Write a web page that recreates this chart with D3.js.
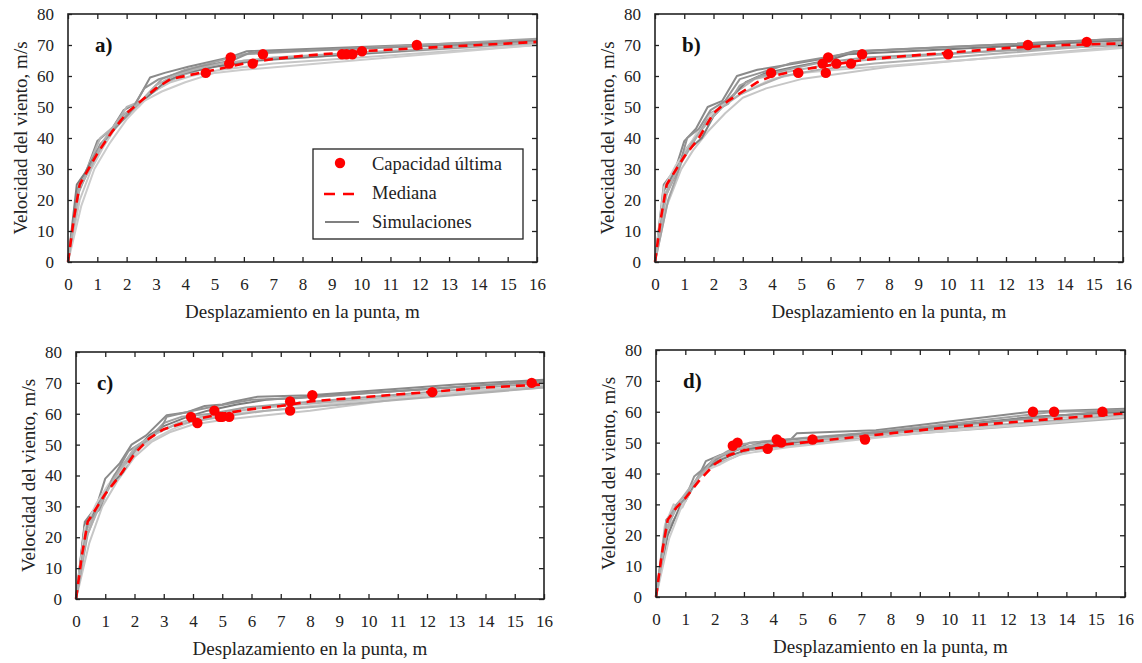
<!DOCTYPE html>
<html>
<head>
<meta charset="utf-8">
<script src="https://cdn.jsdelivr.net/npm/d3@7"></script>
<style>
  body { margin: 0; background: #fff; }
</style>
</head>
<body>
<div id="dataviz"></div>
<script>

var serif = "Liberation Serif"

// tick values
var xTicks = d3.range(0, 17, 1)
var yTicks = [0, 10, 20, 30, 40, 50, 60, 70, 80]
var panelNames = ["a)", "b)", "c)", "d)"]
var simColors = ["#8a8a8a", "#b4b4b4", "#c6c6c6", "#7c7c7c", "#a2a2a2", "#cccccc", "#939393", "#b0b0b0"]

// --- panel a ---
var simA = [
  [[0,0],[0.35,24],[0.65,30],[1,39],[1.5,43],[1.9,49],[2.3,51],[2.8,59.5],[3.3,61],[4.1,63],[5.5,66],[6.1,68],[16,71.5]],
  [[0,0],[0.3,22],[0.7,31],[1.1,40],[1.6,44],[2,50],[2.5,52],[3.1,56],[3.8,60],[4.5,62],[6,65],[8,66],[16,70.5]],
  [[0,0],[0.4,20],[0.8,30],[1.2,37],[1.8,46],[2.4,50],[2.9,55],[3.5,58],[4.2,60],[5.2,62],[7,64],[16,70]],
  [[0,0],[0.3,25],[0.6,29],[1,36],[1.4,41],[1.8,47],[2.3,50],[2.8,54],[3.3,58],[4,61],[5,63],[6.5,65],[16,71]],
  [[0,0],[0.35,23],[0.9,33],[1.3,40],[1.7,45],[2.2,49],[2.7,54],[3.2,59],[4,62],[4.8,64],[6,67],[16,72]],
  [[0,0],[0.45,18],[0.9,30],[1.4,38],[2,46],[2.6,52],[3.2,55],[4,58],[5,61],[6,62],[16,70]],
  [[0,0],[0.3,21],[0.7,30],[1.1,38],[1.7,44],[2.1,48],[2.6,56],[3.1,59],[3.8,61],[4.5,63],[5.6,65],[6.2,67.5],[16,71]],
  [[0,0],[0.4,24],[0.8,31],[1.2,39],[1.8,47],[2.4,51],[3,57],[3.6,60],[4.3,62],[5.2,64],[7,66],[16,70.8]]
]
var medA = [[0,0],[0.2,14],[0.4,25],[1,35],[1.5,42],[2,48],[2.5,52],[3,56],[3.5,59],[4,60],[5,62],[6,64],[7,65.5],[8,66.5],[10,68],[12,69],[14,70],[16,71]]
var capA = [[4.7,61],[5.5,64],[5.55,66],[6.3,64],[6.65,67],[9.35,67],[9.5,67],[9.7,67],[10.03,68],[11.9,70]]

// --- panel b ---
var simB = [
  [[0,0],[0.3,25],[0.7,30],[1,39],[1.4,43],[1.8,50],[2.3,52],[2.8,60],[3.5,62],[4.8,64],[6,66],[6.8,68],[16,72]],
  [[0,0],[0.35,22],[0.8,31],[1.1,37],[1.7,44],[2.2,50],[2.8,55],[3.4,59],[4.3,61],[5.5,63],[7,65],[16,71]],
  [[0,0],[0.4,18],[0.9,30],[1.3,36],[1.8,42],[2.4,48],[3,53],[3.8,56],[5,59],[6.5,61],[8,63],[16,69.5]],
  [[0,0],[0.3,23],[0.6,28],[1,35],[1.6,40],[2,47],[2.6,53],[3.1,58],[3.8,61],[4.8,63],[5.9,65],[6.6,67],[16,71.5]],
  [[0,0],[0.45,20],[0.9,32],[1.4,40],[1.9,48],[2.5,51],[2.9,57],[3.6,60],[4.5,62],[5.5,64],[7.2,66],[16,70]],
  [[0,0],[0.3,24],[0.7,31],[1.2,38],[1.7,46],[2.1,49],[2.7,53],[3.3,56],[4,59],[5,61],[6.2,62],[16,69]],
  [[0,0],[0.35,21],[0.8,30],[1.1,40],[1.5,43],[1.9,49],[2.4,52],[2.9,59],[3.6,61],[4.6,64],[5.8,66],[7,68],[16,72]],
  [[0,0],[0.4,22],[0.9,33],[1.3,39],[1.8,45],[2.3,50],[2.9,54],[3.6,57],[4.4,60],[5.6,62],[7.5,64],[16,70.5]]
]
var medB = [[0,0],[0.2,14],[0.4,25],[1,34],[1.5,40],[2,48],[2.5,52],[3,55],[3.5,58],[4,60],[5,62],[6,63.5],[7,65],[8,66],[10,67.5],[12,69],[14,70],[16,70.5]]
var capB = [[3.97,61],[4.9,61],[5.73,64],[5.84,61],[5.92,66],[6.2,64],[6.7,64],[7.08,67],[10.02,67],[12.75,70],[14.76,71]]

// --- panel c ---
var simC = [
  [[0,0],[0.3,25],[0.7,30],[1,39],[1.5,44],[1.9,50],[2.4,53],[3.1,59.5],[3.8,60.5],[4.4,62.5],[5,63],[5.4,64],[6.2,65.5],[8,66],[13,69.5],[16,71]],
  [[0,0],[0.35,22],[0.8,31],[1.2,37],[1.8,45],[2.3,50],[2.8,54],[3.5,57],[4.3,59],[5.5,61],[7,62.5],[11,65.5],[16,69]],
  [[0,0],[0.45,18],[0.9,30],[1.4,38],[2,46],[2.6,51],[3.2,54],[4,56.5],[5,58],[6.5,59.5],[8,61],[12,66],[16,68.5]],
  [[0,0],[0.3,24],[0.6,28],[1,35],[1.6,41],[2,48],[2.5,53],[3,56],[3.8,59],[4.5,61],[5.5,63],[6.5,64.5],[16,70.5]],
  [[0,0],[0.4,21],[0.9,33],[1.3,40],[1.9,47],[2.4,51],[3,57],[3.6,59],[4.6,60],[5.8,62],[7.5,63.5],[16,70]],
  [[0,0],[0.3,23],[0.7,31],[1.1,37],[1.7,43],[2.2,49],[2.7,52],[3.3,55],[4.1,58],[5.2,60],[6.5,61],[9,63.5],[16,69.5]],
  [[0,0],[0.4,25],[0.8,29],[1.2,38],[1.8,48],[2.3,51],[2.9,55],[3.1,59],[4,61],[4.8,62.5],[6,64.5],[7.5,65],[13.5,69],[16,70.5]],
  [[0,0],[0.35,20],[0.8,30],[1.3,39],[2,49],[2.6,53],[3.3,56],[4,57.5],[5,59],[6.5,61],[8.5,62.5],[16,68.5]]
]
var medC = [[0,0],[0.2,14],[0.4,25],[1,34],[1.5,40],[2,47],[2.5,52],[3,55],[4,58],[5,60],[6,61.5],[7,62.5],[8,64],[10,65.5],[12,67],[14,68.5],[16,69.5]]
var capC = [[3.93,59],[4.15,57],[4.73,61],[4.92,59],[5.0,59],[5.24,59],[7.32,64],[7.32,61],[8.08,66],[12.18,67],[15.58,70]]

// --- panel d ---
var simD = [
  [[0,0],[0.35,25],[0.7,29],[1,31],[1.4,38],[1.7,44],[2.2,46],[2.6,47],[3.2,50],[4.6,51],[4.8,53],[7.5,54],[12.8,60],[16,61]],
  [[0,0],[0.4,22],[0.8,28],[1.1,33],[1.5,40],[2,43],[2.6,45],[3.2,47.5],[4.5,49],[6,50.5],[9,53],[16,58]],
  [[0,0],[0.3,23],[0.6,30],[0.9,29],[1.3,37],[1.7,42],[2.2,45],[2.8,48],[3.5,49],[5,50],[7,52],[12,57],[16,59.5]],
  [[0,0],[0.4,20],[0.8,29],[1.2,35],[1.6,41],[2.1,44],[2.6,46],[3.2,48],[4.2,49.5],[5.5,51],[8,53.5],[13,58.5],[16,60]],
  [[0,0],[0.35,24],[0.7,30],[1.1,34],[1.5,40],[1.9,44],[2.4,47],[2.9,49.5],[3.8,50.5],[5,51.5],[7,53],[10,56],[13.6,60],[16,60.5]],
  [[0,0],[0.45,19],[0.9,30],[1.2,36],[1.7,41],[2.2,43],[2.8,46],[3.4,47],[4.5,48.5],[6,50],[9,53],[16,58.5]],
  [[0,0],[0.3,21],[0.7,29],[1,32],[1.3,39],[1.8,43],[2.3,46],[2.9,48],[3.6,50],[4.6,51],[6.5,52.5],[10,55.5],[15.2,60],[16,60.5]],
  [[0,0],[0.4,23],[0.8,31],[1.2,36],[1.6,40],[2,45],[2.5,47],[3,48.5],[4,50],[5.5,51],[8,53],[12,56],[16,59]]
]
var medD = [[0,0],[0.2,14],[0.4,25],[0.7,29],[1,32],[1.5,38],[2,43],[2.5,46],[3,47.5],[4,49],[5,50],[7,52],[8,53],[10,55],[12,56.5],[14,58],[16,59.5]]
var capD = [[2.62,49],[2.78,50],[3.81,48],[4.12,51],[4.27,50],[5.34,51],[7.13,51],[12.86,60],[13.58,60],[15.23,60]]

// panel boxes (left, top, width, height) in page pixels
var boxes = [
  {left: 68, top: 14, width: 469, height: 248, lab: 27},
  {left: 655, top: 14, width: 468, height: 248, lab: 27},
  {left: 76, top: 352, width: 468, height: 247, lab: 21},
  {left: 656, top: 350, width: 469, height: 247, lab: 27}
]
var sims = [simA, simB, simC, simD]
var meds = [medA, medB, medC, medD]
var caps = [capA, capB, capC, capD]

var svg = d3.select("#dataviz")
  .append("svg")
  .attr("width", 1142)
  .attr("height", 663)
  .attr("font-family", serif)

svg.append("rect").attr("width", 1142).attr("height", 663).attr("fill", "#fff")

boxes.forEach(function(b, i) {
  var g = svg.append("g")
    .attr("transform", "translate(" + b.left + "," + b.top + ")")

  var x = d3.scaleLinear().domain([0, 16]).range([0, b.width])
  var y = d3.scaleLinear().domain([0, 80]).range([b.height, 0])

  var line = d3.line()
    .x(function(d) { return x(d[0]) })
    .y(function(d) { return y(d[1]) })

  // simulaciones
  g.selectAll(".sim")
    .data(sims[i])
    .join("path")
    .attr("class", "sim")
    .attr("d", line)
    .attr("fill", "none")
    .attr("stroke", function(d, k) { return simColors[k % simColors.length] })
    .attr("stroke-width", 2)
    .attr("stroke-linejoin", "round")

  // mediana
  g.append("path")
    .datum(meds[i])
    .attr("d", line)
    .attr("fill", "none")
    .attr("stroke", "#ff0000")
    .attr("stroke-width", 2.6)
    .attr("stroke-dasharray", "9,6")

  // capacidad ultima
  g.selectAll(".cap")
    .data(caps[i])
    .join("circle")
    .attr("class", "cap")
    .attr("cx", function(d) { return x(d[0]) })
    .attr("cy", function(d) { return y(d[1]) })
    .attr("r", 5.2)
    .attr("fill", "#ff0000")

  // ejes (ticks hacia adentro en los cuatro lados)
  g.append("g")
    .attr("transform", "translate(0," + b.height + ")")
    .call(d3.axisBottom(x).tickValues(xTicks).tickSize(-5).tickPadding(16).tickFormat(d3.format("d")))
  g.append("g")
    .call(d3.axisLeft(y).tickValues(yTicks).tickSize(-4).tickPadding(14))
  g.append("g")
    .call(d3.axisTop(x).tickValues(xTicks).tickSize(-5).tickFormat(""))
  g.append("g")
    .attr("transform", "translate(" + b.width + ",0)")
    .call(d3.axisRight(y).tickValues(yTicks).tickSize(-5).tickFormat(""))

  g.selectAll(".domain").remove()
  g.selectAll("g[font-family]").attr("font-family", serif).attr("font-size", 17)
  g.selectAll(".tick line").attr("stroke", "#222").attr("stroke-width", 1.3)
  g.selectAll(".tick text").attr("fill", "#222")

  g.append("rect")
    .attr("width", b.width)
    .attr("height", b.height)
    .attr("fill", "none")
    .attr("stroke", "#222")
    .attr("stroke-width", 1.6)

  // titulos de ejes
  g.append("text")
    .attr("x", b.width / 2)
    .attr("y", b.height + 56)
    .attr("text-anchor", "middle")
    .attr("fill", "#222")
    .attr("font-size", 19)
    .text("Desplazamiento en la punta, m")

  g.append("text")
    .attr("transform", "translate(-41," + (b.height / 2) + ") rotate(-90)")
    .attr("text-anchor", "middle")
    .attr("fill", "#222")
    .attr("font-size", 19)
    .text("Velocidad del viento, m/s")

  g.append("text")
    .attr("x", b.lab)
    .attr("y", 38)
    .attr("fill", "#111")
    .attr("font-size", 21)
    .attr("font-weight", "bold")
    .text(panelNames[i])
})

// leyenda (solo panel a)
var leg = svg.append("g").attr("transform", "translate(313,149)")
leg.append("rect")
  .attr("width", 210).attr("height", 90)
  .attr("fill", "#fff").attr("stroke", "#222").attr("stroke-width", 1.3)
leg.append("circle").attr("cx", 27).attr("cy", 14).attr("r", 5.2).attr("fill", "#ff0000")
leg.append("line").attr("x1", 11).attr("x2", 46).attr("y1", 45).attr("y2", 45)
  .attr("stroke", "#ff0000").attr("stroke-width", 2.6).attr("stroke-dasharray", "11,8")
leg.append("line").attr("x1", 12).attr("x2", 46).attr("y1", 73).attr("y2", 73)
  .attr("stroke", "#808080").attr("stroke-width", 2)
var legText = ["Capacidad última", "Mediana", "Simulaciones"]
leg.selectAll(".lt")
  .data(legText)
  .join("text")
  .attr("class", "lt")
  .attr("x", 59)
  .attr("y", function(d, k) { return 21 + k * 29 })
  .attr("fill", "#222")
  .attr("font-size", 18.5)
  .text(function(d) { return d })

</script>
</body>
</html>
